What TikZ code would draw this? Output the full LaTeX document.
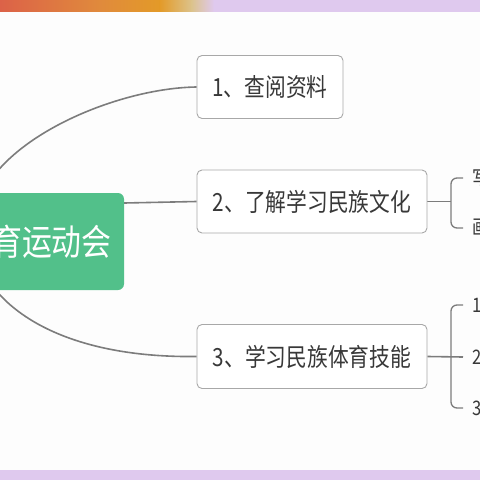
\documentclass[tikz,border=0pt]{standalone}
\usepackage{fontspec}
\newfontfamily\cjk{Noto Sans CJK SC}
\usepackage{graphicx}
\pgfdeclarelayer{back}
\pgfdeclarelayer{lines}
\pgfsetlayers{back,lines,main}
\definecolor{bgc}{HTML}{FDFDFD}
\definecolor{lav}{HTML}{DFC9EE}
\definecolor{ora1}{HTML}{DC6248}
\definecolor{ora2}{HTML}{E08A3C}
\definecolor{ora3}{HTML}{E39A28}
\definecolor{pale}{HTML}{DCC38C}
\definecolor{gr}{HTML}{52C08A}
\definecolor{bord}{HTML}{A8A8A8}
\definecolor{lnc}{HTML}{7C7C7C}
\definecolor{txt}{HTML}{383838}
\tikzset{
  topicbox/.style={draw=bord, line width=0.9pt, fill=white, rounded corners=5pt,
    text=txt, font=\cjk\fontsize{25}{25}\selectfont, inner sep=0pt},
  rootbox/.style={fill=gr, rounded corners=6pt, text=white,
    font=\cjk\fontsize{36}{36}\selectfont, inner sep=0pt,
    minimum width=144pt, minimum height=97pt},
  subtxt/.style={text=txt, font=\cjk\fontsize{20}{20}\selectfont, inner sep=0pt, anchor=west},
  conn/.style={draw=lnc, line width=1.6pt},
  brk/.style={draw=lnc, line width=1.3pt, rounded corners=6pt}
}
\newcommand{\sq}[1]{\scalebox{0.83}[1]{#1}}
\begin{document}
\begin{tikzpicture}[x=1pt,y=-1pt]
\useasboundingbox (0,0) rectangle (480,480);
\clip (0,0) rectangle (480,480);
\begin{pgfonlayer}{back}
\fill[bgc] (0,0) rectangle (480,480);
\fill[left color=ora1, right color=ora2] (0,0) rectangle (100,11.5);
\fill[left color=ora2, right color=ora3] (99.5,0) rectangle (160,11.5);
\fill[left color=ora3, right color=pale] (159.5,0) rectangle (192,11.5);
\fill[left color=pale, right color=lav] (191.5,0) rectangle (214,11.5);
\fill[lav] (213.5,0) rectangle (480,11.5);
\fill[lav] (0,470) rectangle (480,480);
\end{pgfonlayer}

\node[rootbox] (root) at (52,241.5) {\sq{育运动会}\hspace{13pt}};
\node[topicbox, minimum width=146pt, minimum height=63pt] (b1) at (270,87) {\sq{1、查阅资料}};
\node[topicbox, minimum width=230pt, minimum height=63pt] (b2) at (312,201.5) {\sq{2、了解学习民族文化}};
\node[topicbox, minimum width=230pt, minimum height=64pt] (b3) at (312,356.5) {\sq{3、学习民族体育技能}};

\node[subtxt] (s1) at (472,178) {\sq{写}};
\node[subtxt] (s2) at (472,228) {\sq{画}};
\node[subtxt] (t1) at (472,305) {\sq{1}};
\node[subtxt] (t2) at (472,357) {\sq{2}};
\node[subtxt] (t3) at (472,408) {\sq{3}};

\begin{pgfonlayer}{lines}
\draw[conn] ([yshift=-7pt]root.north west) .. controls (5,135) and (120,88) .. (b1.west);
\draw[conn] ([yshift=38.5pt]root.east) -- (b2.west);
\draw[conn] ([yshift=25pt]root.south west) .. controls (5,320) and (80,358) .. (b3.west);

\coordinate (m2) at (451,201.5);
\draw[conn] (b2.east) -- (m2);
\draw[brk] ([xshift=-9pt]s1.west) -- (451,178) -- (451,228) -- ([xshift=-9pt]s2.west);

\draw[conn] (b3.east) -- ([xshift=-9pt]t2.west);
\draw[brk] ([xshift=-9pt]t1.west) -- (451,305) -- (451,408) -- ([xshift=-9pt]t3.west);
\end{pgfonlayer}
\end{tikzpicture}
\end{document}
